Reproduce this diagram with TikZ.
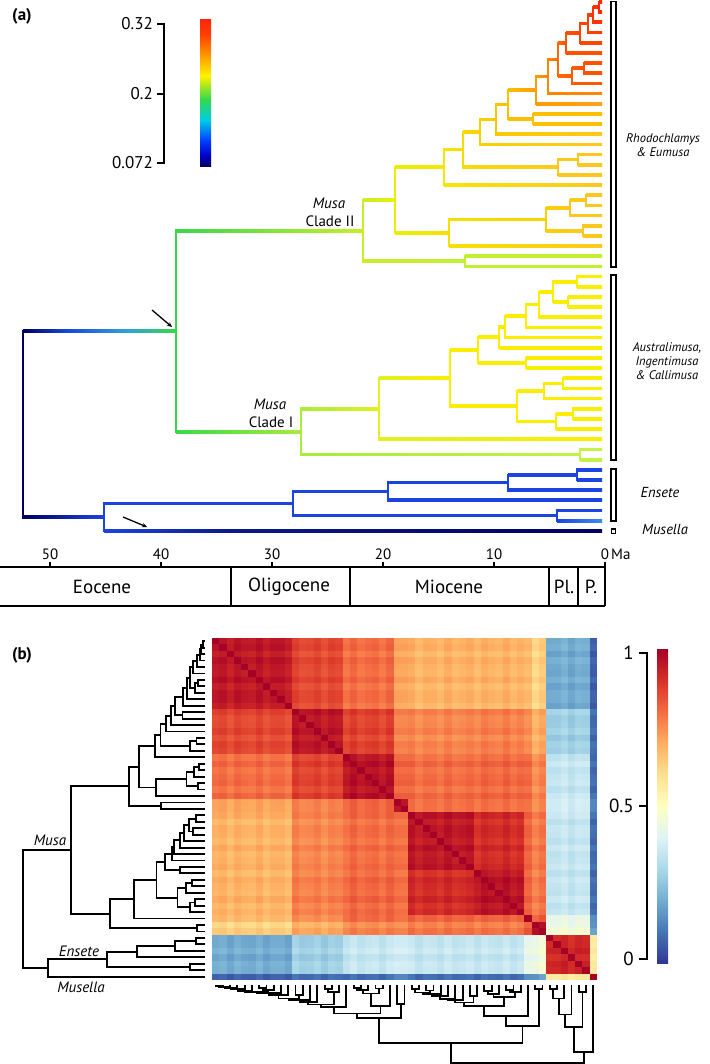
\documentclass[tikz,border=0pt]{standalone}
\usepackage{fontspec}
\setmainfont{PT Sans}
\usetikzlibrary{arrows.meta}
% tree colours (panel a)
\definecolor{cRoot}{HTML}{000060}\definecolor{cBl1}{HTML}{1848D8}\definecolor{cBl2}{HTML}{30A0D8}
\definecolor{cMusa}{HTML}{38D848}\definecolor{cEns}{HTML}{1C44E0}\definecolor{cEnsL}{HTML}{3C8CF0}
\definecolor{cNavy2}{HTML}{0A1A8A}\definecolor{cCII}{HTML}{C8EE28}\definecolor{cCI}{HTML}{A8EC3C}
\definecolor{cS}{HTML}{E8F000}\definecolor{cY}{HTML}{C0F030}\definecolor{cR}{HTML}{F4E600}
\definecolor{cO}{HTML}{F6DC00}\definecolor{cN}{HTML}{F8D200}\definecolor{cM}{HTML}{FAC800}
\definecolor{cK}{HTML}{FCC000}\definecolor{cL}{HTML}{FCC000}\definecolor{cJ}{HTML}{FE9C00}
\definecolor{cJt}{HTML}{FCA020}\definecolor{cI}{HTML}{FF8400}\definecolor{cIt}{HTML}{FA8A10}
\definecolor{cF}{HTML}{FF6A00}\definecolor{cG}{HTML}{FF5C00}\definecolor{cH}{HTML}{FF5200}
\definecolor{cE}{HTML}{FF5000}\definecolor{cD}{HTML}{FF4600}\definecolor{cC}{HTML}{FF3E00}
\definecolor{cB}{HTML}{FF3400}\definecolor{cA}{HTML}{FF2A00}\definecolor{cYO}{HTML}{FCC820}
\definecolor{cP}{HTML}{FCC820}\definecolor{cT}{HTML}{F6E000}\definecolor{cU}{HTML}{FAD000}
\definecolor{cV}{HTML}{FCC820}\definecolor{cCIa}{HTML}{E0F020}\definecolor{cYel}{HTML}{FCEE00}
\definecolor{cZ}{HTML}{C4F048}
% RdYlBu anchors
\definecolor{rb0}{HTML}{313695}\definecolor{rb1}{HTML}{4575B4}\definecolor{rb2}{HTML}{74ADD1}
\definecolor{rb3}{HTML}{ABD9E9}\definecolor{rb4}{HTML}{E0F3F8}\definecolor{rb5}{HTML}{FFFFBF}
\definecolor{rb6}{HTML}{FEE090}\definecolor{rb7}{HTML}{FDAE61}\definecolor{rb8}{HTML}{F46D43}
\definecolor{rb9}{HTML}{D73027}\definecolor{rb10}{HTML}{A50026}
\pgfdeclareverticalshading{rdylbu}{100bp}{rgb(0bp)=(0.192,0.212,0.584); rgb(25bp)=(0.192,0.212,0.584); rgb(30bp)=(0.271,0.459,0.706); rgb(35bp)=(0.455,0.678,0.820); rgb(40bp)=(0.671,0.851,0.914); rgb(45bp)=(0.878,0.953,0.973); rgb(50bp)=(1,1,0.749); rgb(55bp)=(0.996,0.878,0.565); rgb(60bp)=(0.992,0.682,0.380); rgb(65bp)=(0.957,0.427,0.263); rgb(70bp)=(0.843,0.188,0.153); rgb(75bp)=(0.647,0,0.149); rgb(100bp)=(0.647,0,0.149)}
\pgfdeclareverticalshading{jetbar}{100bp}{rgb(0bp)=(0,0,0.35); rgb(25bp)=(0,0,0.35); rgb(29bp)=(0,0,0.8); rgb(34bp)=(0,0.25,1); rgb(41bp)=(0,0.8,0.9); rgb(48bp)=(0.2,0.85,0.3); rgb(56bp)=(1,0.95,0); rgb(63bp)=(1,0.6,0); rgb(70bp)=(1,0.25,0); rgb(75bp)=(1,0.15,0.05); rgb(100bp)=(1,0.15,0.05)}
% branch drawing macros
\newcommand\HBa[5]{\shade[left color=#4,right color=#5] (#1,#3-1.35) rectangle (#2,#3+1.35);}
\newcommand\VBa[4]{\fill[#4] (#1-1.35,#2-1.35) rectangle (#1+1.35,#3+1.35);}
\newcommand\HBb[5]{\draw[bline] (#1,#3) -- (#2,#3);}
\newcommand\VBb[4]{\draw[bline] (#1,#2) -- (#1,#3);}
\newcommand\TreeData{%
\VB{23}{331.18}{517.17}{cRoot}
\HB{23}{67}{331.18}{cRoot}{cBl1}\HB{67}{125}{331.18}{cBl1}{cBl2}\HB{125}{176}{331.18}{cBl2}{cMusa}
\HB{23}{104}{517.17}{cRoot}{cEns}
\VB{104}{503.51}{530.84}{cEns}
\HB{104}{230}{530.84}{cEns}{cNavy2}\HB{230}{602}{530.84}{cNavy2}{cRoot}
\HB{104}{293}{503.51}{cEns}{cEns}
\VB{293}{491.43}{515.59}{cEns}
\HB{293}{388}{491.43}{cEns}{cEns}\HB{293}{557}{515.59}{cEns}{cEns}
\VB{388}{482.53}{500.33}{cEns}
\HB{388}{508}{482.53}{cEns}{cEns}\HB{388}{602}{500.33}{cEns}{cEns}
\VB{508}{474.9}{490.16}{cEns}
\HB{508}{577}{474.9}{cEns}{cEns}\HB{508}{602}{490.16}{cEns}{cEns}
\VB{577}{469.82}{479.99}{cEns}
\HB{577}{602}{469.82}{cEns}{cEns}\HB{577}{602}{479.99}{cEns}{cEns}
\VB{557}{510.5}{520.67}{cEns}
\HB{557}{602}{510.5}{cEns}{cEns}\HB{557}{602}{520.67}{cEns}{cEnsL}
\VB{176}{230.69}{431.66}{cMusa}
\HB{176}{363}{230.69}{cMusa}{cCII}\HB{176}{301}{431.66}{cMusa}{cCI}
\VB{363}{200.03}{261.34}{cCII}
\HB{363}{395}{200.03}{cCII}{cS}\HB{363}{465}{261.34}{cCII}{cY}
\VB{465}{256.25}{266.42}{cY}
\HB{465}{602}{256.25}{cY}{cY}\HB{465}{602}{266.42}{cY}{cY}
\VB{395}{167.32}{232.74}{cS}
\HB{395}{444}{167.32}{cS}{cR}\HB{395}{449}{232.74}{cS}{cT}
\VB{444}{149.58}{185.06}{cR}
\HB{444}{463}{149.58}{cR}{cO}\HB{444}{602}{185.06}{cR}{cYO}
\VB{463}{131.88}{167.27}{cO}
\HB{463}{480}{131.88}{cO}{cN}\HB{463}{558}{167.27}{cO}{cP}
\VB{480}{119.37}{144.38}{cN}
\HB{480}{496}{119.37}{cN}{cM}\HB{480}{602}{144.38}{cN}{cYO}
\VB{496}{104.52}{134.21}{cM}
\HB{496}{508}{104.52}{cM}{cK}\HB{496}{602}{134.21}{cM}{cYO}
\VB{508}{90.08}{118.96}{cK}
\HB{508}{536}{90.08}{cK}{cJ}\HB{508}{533}{118.96}{cK}{cL}
\VB{533}{113.87}{124.04}{cL}
\HB{533}{602}{113.87}{cL}{cL}\HB{533}{602}{124.04}{cL}{cL}
\VB{536}{76.45}{103.7}{cJ}
\HB{536}{548}{76.45}{cJ}{cI}\HB{536}{602}{103.7}{cJ}{cJt}
\VB{548}{59.37}{93.53}{cI}
\HB{548}{558}{59.37}{cI}{cF}\HB{548}{602}{93.53}{cI}{cIt}
\VB{558}{43.0}{75.73}{cF}
\HB{558}{566}{43.0}{cF}{cE}\HB{558}{572}{75.73}{cF}{cG}
\VB{572}{68.1}{83.36}{cG}
\HB{572}{584}{68.1}{cG}{cH}\HB{572}{602}{83.36}{cG}{cG}
\VB{584}{63.02}{73.19}{cH}
\HB{584}{602}{63.02}{cH}{cH}\HB{584}{602}{73.19}{cH}{cH}
\VB{566}{33.15}{52.85}{cE}
\HB{566}{580}{33.15}{cE}{cD}\HB{566}{602}{52.85}{cE}{cE}
\VB{580}{23.61}{42.68}{cD}
\HB{580}{588}{23.61}{cD}{cC}\HB{580}{602}{42.68}{cD}{cD}
\VB{588}{14.71}{32.51}{cC}
\HB{588}{593}{14.71}{cC}{cB}\HB{588}{602}{32.51}{cC}{cC}
\VB{593}{7.09}{22.34}{cB}
\HB{593}{599}{7.09}{cB}{cA}\HB{593}{602}{22.34}{cB}{cB}
\VB{599}{2.0}{12.17}{cA}
\HB{599}{602}{2.0}{cA}{cA}\HB{599}{602}{12.17}{cA}{cA}
\VB{449}{219.39}{246.08}{cT}
\HB{449}{546}{219.39}{cT}{cU}\HB{449}{602}{246.08}{cT}{cYO}
\VB{546}{207.95}{230.83}{cU}
\HB{546}{570}{207.95}{cU}{cV}\HB{546}{583}{230.83}{cU}{cV}
\VB{570}{200.32}{215.57}{cV}
\HB{570}{586}{200.32}{cV}{cV}\HB{570}{602}{215.57}{cV}{cV}
\VB{586}{195.23}{205.4}{cV}
\HB{586}{602}{195.23}{cV}{cV}\HB{586}{602}{205.4}{cV}{cV}
\VB{583}{225.74}{235.91}{cV}
\HB{583}{602}{225.74}{cV}{cV}\HB{583}{602}{235.91}{cV}{cV}
\VB{558}{159.64}{174.89}{cP}
\HB{558}{578}{159.64}{cP}{cP}\HB{558}{602}{174.89}{cP}{cP}
\VB{578}{154.55}{164.72}{cP}
\HB{578}{602}{154.55}{cP}{cP}\HB{578}{602}{164.72}{cP}{cP}
\VB{301}{408.76}{454.57}{cCI}
\HB{301}{379}{408.76}{cCI}{cCIa}\HB{301}{580}{454.57}{cCI}{cZ}
\VB{580}{449.48}{459.65}{cZ}
\HB{580}{602}{449.48}{cZ}{cZ}\HB{580}{602}{459.65}{cZ}{cZ}
\VB{379}{378.21}{439.31}{cCIa}
\HB{379}{450}{378.21}{cCIa}{cYel}\HB{379}{602}{439.31}{cCIa}{cYel}
\VB{450}{350.17}{406.26}{cYel}
\HB{450}{478}{350.17}{cYel}{cYel}\HB{450}{517}{406.26}{cYel}{cYel}
\VB{478}{337.3}{363.04}{cYel}
\HB{478}{499}{337.3}{cYel}{cYel}\HB{478}{526}{363.04}{cYel}{cYel}
\VB{526}{357.95}{368.12}{cYel}
\HB{526}{602}{357.95}{cYel}{cYel}\HB{526}{602}{368.12}{cYel}{cYel}
\VB{499}{326.81}{347.78}{cYel}
\HB{499}{505}{326.81}{cYel}{cYel}\HB{499}{602}{347.78}{cYel}{cYel}
\VB{505}{316.0}{337.61}{cYel}
\HB{505}{526}{316.0}{cYel}{cYel}\HB{505}{602}{337.61}{cYel}{cYel}
\VB{526}{304.56}{327.44}{cYel}
\HB{526}{539}{304.56}{cYel}{cYel}\HB{526}{602}{327.44}{cYel}{cYel}
\VB{539}{291.85}{317.27}{cYel}
\HB{539}{553}{291.85}{cYel}{cYel}\HB{539}{602}{317.27}{cYel}{cYel}
\VB{553}{281.68}{302.02}{cYel}
\HB{553}{577}{281.68}{cYel}{cYel}\HB{553}{568}{302.02}{cYel}{cYel}
\VB{577}{276.59}{286.76}{cYel}
\HB{577}{602}{276.59}{cYel}{cYel}\HB{577}{602}{286.76}{cYel}{cYel}
\VB{568}{296.93}{307.1}{cYel}
\HB{568}{602}{296.93}{cYel}{cYel}\HB{568}{602}{307.1}{cYel}{cYel}
\VB{517}{391.0}{421.51}{cYel}
\HB{517}{544}{391.0}{cYel}{cYel}\HB{517}{556}{421.51}{cYel}{cYel}
\VB{544}{383.38}{398.63}{cYel}
\HB{544}{563}{383.38}{cYel}{cYel}\HB{544}{602}{398.63}{cYel}{cYel}
\VB{563}{378.29}{388.46}{cYel}
\HB{563}{602}{378.29}{cYel}{cYel}\HB{563}{602}{388.46}{cYel}{cYel}
\VB{556}{413.89}{429.14}{cYel}
\HB{556}{573}{413.89}{cYel}{cYel}\HB{556}{602}{429.14}{cYel}{cYel}
\VB{573}{408.8}{418.97}{cYel}
\HB{573}{602}{408.8}{cYel}{cYel}\HB{573}{602}{418.97}{cYel}{cYel}
}
\def\GRP{{0,0,0,0,0,0,0,0,0,0,0,1,1,1,1,1,1,1,2,2,2,2,2,2,2,3,3,4,4,4,4,4,4,4,4,4,5,5,5,5,5,5,5,6,7,7,8,8,8,8,8,8,9}}
\def\VT{{0.95,0.86,0.80,0.72,0.69,0.69,0.67,0.63,0.20,0.08,
0.86,0.95,0.87,0.77,0.76,0.77,0.74,0.70,0.28,0.10,
0.80,0.87,0.96,0.82,0.80,0.81,0.80,0.76,0.35,0.10,
0.72,0.77,0.82,0.97,0.80,0.80,0.79,0.76,0.38,0.15,
0.69,0.76,0.80,0.80,0.95,0.91,0.81,0.78,0.35,0.10,
0.69,0.77,0.81,0.80,0.91,0.96,0.81,0.78,0.35,0.10,
0.67,0.74,0.80,0.79,0.81,0.81,1.00,0.82,0.42,0.15,
0.63,0.70,0.76,0.76,0.78,0.78,0.82,0.97,0.45,0.18,
0.20,0.28,0.35,0.38,0.35,0.35,0.42,0.45,0.92,0.58,
0.08,0.10,0.10,0.15,0.10,0.10,0.15,0.18,0.58,1.00}}
\begin{document}
\begin{tikzpicture}[x=1pt,y=-1pt,
  bline/.style={line width=1.85pt,line cap=rect,black},
  axl/.style={line width=1.3pt,black},
  f12i/.style={font=\fontsize{12.5}{13}\selectfont\itshape,inner sep=0pt,align=center},
  f14i/.style={font=\fontsize{14.5}{15}\selectfont\itshape,inner sep=0pt},
  f15/.style={font=\fontsize{15}{15}\selectfont,inner sep=0pt},
  f15i/.style={font=\fontsize{15}{15}\selectfont\itshape,inner sep=0pt},
  f17/.style={font=\fontsize{17}{17}\selectfont,inner sep=0pt},
  f19/.style={font=\fontsize{19}{19}\selectfont,inner sep=0pt},
  fep/.style={font=\fontsize{19}{19}\selectfont,inner sep=0pt},
  plab/.style={font=\fontsize{17}{17}\selectfont\bfseries,inner sep=0pt},
  arr/.style={-{Stealth[length=5pt,width=4.5pt]},line width=1.3pt,black}]
\useasboundingbox (0,0) rectangle (709,1064);
\fill[white] (0,0) rectangle (709,1064);
% ---------------- panel (a) ----------------
\node[plab] (pa) at (22,16) {(a)};
\shade[shading=jetbar] (200,20) rectangle (211,167);
\draw[axl] (164,24) -- (164,163);
\foreach \yy in {24,94,163}{\draw[axl] (157,\yy) -- (164.6,\yy);}
\node[f17,anchor=east] (cba1) at (153,24) {0.32};
\node[f17,anchor=east] (cba2) at (153,94) {0.2};
\node[f17,anchor=east] (cba3) at (153,163) {0.072};
{\let\HB\HBa\let\VB\VBa\TreeData}
% clade labels
\node[f15i] (m2) at (329,203) {Musa};
\node[f15] (c2) at (330,221) {Clade II};
\node[f15i] (m1) at (270,404) {Musa};
\node[f15] (c1) at (271,422) {Clade I};
% arrows
\coordinate (ar1s) at (152,310); \coordinate (ar1e) at (172,327);
\coordinate (ar2s) at (123,517); \coordinate (ar2e) at (147,527);
\draw[arr] (ar1s) -- (ar1e);
\draw[arr] (ar2s) -- (ar2e);
% group bars
\draw[line width=1.3pt] (611,1.5) rectangle (616,267);
\draw[line width=1.3pt] (611,275) rectangle (616,460);
\draw[line width=1.3pt] (611,469) rectangle (616,521);
\draw[line width=1.3pt] (611.5,529) rectangle (615.5,533.5);
\node[f12i] (g1) at (663,145) {Rhodochlamys\\[1pt]\& Eumusa};
\node[f12i] (g2) at (667,361.5) {Australimusa,\\[1pt]Ingentimusa\\[1pt]\& Callimusa};
\node[f14i] (g3) at (660,493) {Ensete};
\node[f14i] (g4) at (665,530) {Musella};
% time axis
\foreach \t/\xx in {50/50,40/161,30/272,20/383,10/494,0/605}{
  \draw[axl] (\xx,562) -- (\xx,567);
  \node[f15] (tk\t) at (\xx,554) {\t};}
\node[f15,anchor=west] (ma) at (611,554) {Ma};
\draw[axl] (0,567) -- (605,567);
\draw[axl] (0,606) -- (605,606);
\foreach \xx in {231,350,549,578,605}{\draw[axl] (\xx,567) -- (\xx,606);}
\node[fep] (ep1) at (102,587) {Eocene};
\node[fep] (ep2) at (289,587) {Oligocene};
\node[fep] (ep3) at (449,587) {Miocene};
\node[fep] (ep4) at (564,587) {Pl.};
\node[fep] (ep5) at (591,587) {P.};
% ---------------- panel (b) ----------------
\node[plab] (pb) at (22,655) {(b)};
\foreach \i in {0,...,52}{%
  \pgfmathtruncatemacro\gi{\GRP[\i]}%
  \pgfmathsetmacro\ri{0.016*sin(\i*137.5)}%
  \foreach \j in {0,...,52}{%
    \pgfmathtruncatemacro\gj{\GRP[\j]}%
    \pgfmathtruncatemacro\hidx{\gi*10+\gj}%
    \pgfmathsetmacro\hv{\VT[\hidx]+\ri+0.016*sin(\j*137.5)}%
    \ifnum\i=\j \def\hv{0.999}\fi
    \pgfmathsetmacro\hvv{10*min(max(\hv,0),0.999)}%
    \pgfmathtruncatemacro\hka{\hvv}%
    \pgfmathtruncatemacro\hkb{\hka+1}%
    \pgfmathtruncatemacro\hp{100*(\hvv-\hka)}%
    \fill[rb\hkb!\hp!rb\hka] ({212+\j*7.264},{638+\i*6.453}) rectangle +(7.7,6.9);
  }%
}
% left dendrogram
\begin{scope}[cm={0.3126,0,0,0.6342,(15.81pt,-639.93pt)}]
{\let\HB\HBb\let\VB\VBb\TreeData}
\end{scope}
% bottom dendrogram
\begin{scope}[cm={0,0.133,-0.71425,0,(214.20pt,-1066.07pt)}]
{\let\HB\HBb\let\VB\VBb\TreeData}
\end{scope}
\node[f15i] (bm) at (50,840) {Musa};
\node[f15i] (be) at (79,951) {Ensete};
\node[f15i] (bmu) at (81,987) {Musella};
% colour bar (b)
\shade[shading=rdylbu] (657,649) rectangle (668,963);
\draw[axl] (647,653) -- (647,959);
\foreach \yy in {653,806,959}{\draw[axl] (639,\yy) -- (647.6,\yy);}
\node[f19,anchor=east] (cbb1) at (634,653) {1};
\node[f19,anchor=east] (cbb2) at (634,806) {0.5};
\node[f19,anchor=east] (cbb3) at (634,959) {0};
\end{tikzpicture}
\end{document}
